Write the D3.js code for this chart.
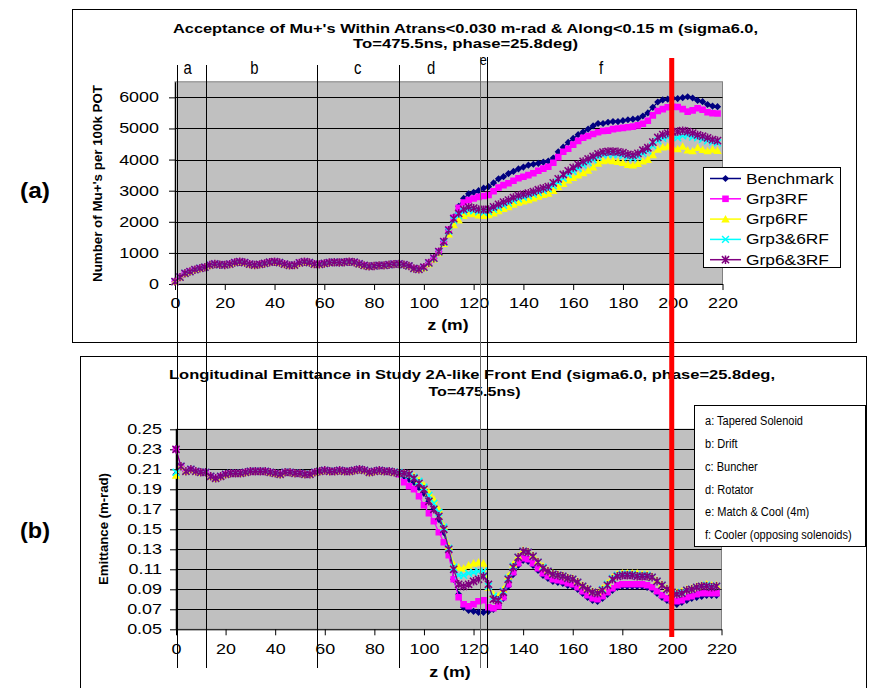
<!DOCTYPE html>
<html><head><meta charset="utf-8">
<script src="https://cdn.jsdelivr.net/npm/d3@7"></script>
<style>
body{margin:0;background:#fff;}
svg{display:block;font-family:"Liberation Sans",Arial,Helvetica,sans-serif;}
</style>
</head><body>
<svg id="chart" width="871" height="688"></svg>
<script>
// ---------------- DATA ----------------
const seriesNames = ["Benchmark", "Grp3RF", "Grp6RF", "Grp3&6RF", "Grp6&3RF"];
const seriesColors = ["#000080", "#FF00FF", "#FFFF00", "#00FFFF", "#800080"];
const seriesMarkers = ["diamond", "square", "triangle", "x", "asterisk"];

// z sampling grid (m), every 2 m
const zGrid = d3.range(0, 220, 2);

// (a) Acceptance, z = 0..98 (all series coincide)
const accCommon = [75,220,345,400,460,505,540,610,643,620,611,640,690,717,690,640,610,630,660,700,
  717,690,640,600,610,680,717,690,640,630,660,690,700,690,700,717,700,650,600,565,
  580,600,600,620,640,645,620,580,500,470];
// (a) Acceptance, z = 100..218
const accBenchmark = [540,680,830,1040,1360,1740,2150,2500,2750,2900,2950,3000,3080,3130,3250,3380,3450,3550,3620,3700,
  3760,3820,3850,3880,3920,3950,4050,4250,4400,4550,4680,4800,4890,4980,5080,5160,5160,5200,5220,5220,
  5250,5280,5300,5320,5400,5500,5680,5850,5920,5940,5970,5960,5990,6020,5980,5900,5860,5770,5720,5700];
const accGrp3RF = [540,680,830,1040,1360,1740,2130,2450,2620,2700,2750,2800,2830,2860,2980,3100,3180,3240,3320,3400,
  3450,3500,3560,3640,3710,3770,3900,4080,4250,4350,4480,4600,4700,4760,4820,4880,4920,4930,4980,5000,
  5020,5040,5060,5100,5150,5250,5420,5560,5620,5680,5700,5690,5620,5540,5580,5650,5600,5520,5490,5480];
const accGrp6RF = [520,650,800,1000,1300,1600,1900,2050,2200,2270,2250,2210,2200,2220,2280,2350,2420,2480,2560,2620,
  2660,2700,2760,2820,2870,2910,3000,3120,3230,3340,3420,3500,3570,3650,3760,3880,3960,3980,3960,3930,
  3900,3840,3820,3870,3950,4000,4150,4330,4400,4420,4380,4340,4420,4300,4280,4380,4320,4280,4330,4290];
const accGrp36RF = [530,670,820,1030,1340,1700,2050,2200,2330,2370,2350,2320,2300,2330,2400,2460,2530,2600,2680,2740,
  2790,2830,2880,2940,3000,3060,3160,3280,3400,3520,3620,3720,3820,3900,3990,4080,4150,4170,4170,4160,
  4130,4080,4050,4100,4200,4280,4450,4600,4680,4720,4730,4700,4760,4780,4720,4700,4650,4600,4560,4540];
const accGrp63RF = [540,680,830,1040,1360,1730,2100,2270,2400,2470,2440,2400,2390,2400,2480,2560,2630,2700,2780,2840,
  2880,2920,2970,3030,3080,3130,3250,3380,3520,3640,3740,3840,3940,4020,4100,4180,4240,4260,4260,4250,
  4220,4170,4140,4200,4300,4380,4560,4710,4800,4850,4890,4900,4930,4900,4850,4790,4750,4700,4640,4610];

// (b) Emittance: value at z = 0 for each series
const emitStart = [0.205, 0.23, 0.204, 0.207, 0.23];
// (b) z = 2..88 (all series coincide)
const emitCommon = [0.213,0.208,0.210,0.208,0.207,0.207,0.203,0.201,0.203,0.205,
  0.206,0.206,0.206,0.207,0.208,0.208,0.208,0.208,0.207,0.206,
  0.205,0.207,0.207,0.206,0.206,0.205,0.205,0.207,0.208,0.209,
  0.208,0.208,0.209,0.208,0.208,0.209,0.210,0.209,0.207,0.208,
  0.209,0.208,0.208,0.207];
// (b) z = 90..218
const emitBenchmark = [0.206,0.203,0.2,0.197,0.192,0.186,0.178,0.17,0.16,0.147,0.128,0.1,0.085,0.072,0.069,
  0.068,0.067,0.067,0.068,0.07,0.074,0.081,0.093,0.105,0.114,0.119,0.118,0.114,0.109,0.104,
  0.101,0.098,0.097,0.096,0.094,0.093,0.09,0.086,0.082,0.079,0.078,0.081,0.085,0.089,0.092,
  0.093,0.093,0.093,0.093,0.093,0.092,0.09,0.086,0.082,0.079,0.076,0.075,0.077,0.079,0.081,
  0.082,0.083,0.084,0.084,0.084];
const emitGrp3RF = [0.205,0.197,0.193,0.19,0.183,0.174,0.166,0.158,0.147,0.137,0.124,0.1,0.082,0.075,0.073,
  0.075,0.078,0.079,0.072,0.071,0.073,0.082,0.095,0.107,0.116,0.121,0.12,0.116,0.111,0.106,
  0.103,0.1,0.099,0.098,0.096,0.095,0.092,0.088,0.084,0.081,0.08,0.083,0.087,0.091,0.094,
  0.095,0.095,0.095,0.095,0.095,0.094,0.092,0.088,0.084,0.081,0.079,0.078,0.079,0.082,0.083,
  0.085,0.086,0.086,0.086,0.086];
const emitGrp6RF = [0.207,0.206,0.205,0.203,0.199,0.194,0.187,0.18,0.17,0.153,0.133,0.115,0.112,0.111,0.114,
  0.116,0.117,0.116,0.092,0.085,0.083,0.09,0.103,0.115,0.123,0.129,0.128,0.124,0.118,0.113,
  0.109,0.106,0.105,0.104,0.102,0.101,0.098,0.094,0.091,0.088,0.087,0.091,0.096,0.102,0.105,
  0.106,0.106,0.106,0.106,0.105,0.105,0.103,0.099,0.095,0.091,0.088,0.087,0.088,0.09,0.091,
  0.093,0.094,0.095,0.094,0.094];
const emitGrp36RF = [0.207,0.205,0.204,0.202,0.198,0.192,0.184,0.176,0.167,0.152,0.131,0.112,0.104,0.104,0.106,
  0.107,0.108,0.108,0.093,0.083,0.081,0.088,0.101,0.113,0.122,0.128,0.127,0.123,0.117,0.112,
  0.108,0.105,0.104,0.103,0.101,0.1,0.097,0.093,0.09,0.087,0.086,0.09,0.095,0.101,0.104,
  0.105,0.105,0.105,0.104,0.104,0.104,0.102,0.098,0.094,0.09,0.087,0.086,0.087,0.089,0.09,
  0.092,0.093,0.094,0.093,0.093];
const emitGrp63RF = [0.206,0.206,0.205,0.201,0.196,0.19,0.178,0.17,0.163,0.15,0.13,0.11,0.095,0.093,0.095,
  0.098,0.1,0.103,0.095,0.08,0.079,0.087,0.1,0.112,0.122,0.128,0.127,0.123,0.117,0.111,
  0.108,0.105,0.104,0.103,0.101,0.1,0.097,0.093,0.09,0.087,0.086,0.089,0.094,0.1,0.103,
  0.104,0.104,0.104,0.103,0.103,0.103,0.102,0.098,0.094,0.09,0.087,0.085,0.086,0.089,0.09,
  0.092,0.093,0.093,0.092,0.093];

// axis ticks
const xTicks = [0,20,40,60,80,100,120,140,160,180,200,220];
const accTicks = [0,1000,2000,3000,4000,5000,6000];
const emitTicks = [0.05,0.07,0.09,0.11,0.13,0.15,0.17,0.19,0.21,0.23,0.25];

// section boundaries (z, m) and labels
const sectionZ = [0.7, 12.6, 57.2, 90, 122.6, 125.5];
const sectionLetters = ["a","b","c","d","e","f"];
const sectionLetterZ = [5.1, 31.9, 73.4, 102.9, 123.9, 171.2];
const sectionNames = ["a: Tapered Solenoid","b: Drift","c: Buncher","d: Rotator","e: Match & Cool (4m)","f: Cooler (opposing solenoids)"];
const redLineZ = 199.6;

const accValues = [accBenchmark, accGrp3RF, accGrp6RF, accGrp36RF, accGrp63RF].map(t => accCommon.concat(t));
const emitValues = [emitBenchmark, emitGrp3RF, emitGrp6RF, emitGrp36RF, emitGrp63RF]
  .map((t, i) => [emitStart[i]].concat(emitCommon, t));

// ---------------- DRAW ----------------
const svg = d3.select("#chart");

function T(g, s, x, y, o = {}) {
  const t = g.append("text").attr("x", x).attr("y", y).text(s)
    .attr("font-size", o.size || 13).attr("font-weight", o.weight || "normal")
    .attr("text-anchor", o.anchor || "start").attr("fill", "#000");
  if (o.family) t.attr("font-family", o.family);
  if (o.rotate) t.attr("transform", `rotate(-90,${x},${y})`);
  const n = t.node().getComputedTextLength();
  const w = o.width || (o.sx ? n * o.sx : null);
  if (w) t.attr("textLength", w).attr("lengthAdjust", "spacingAndGlyphs");
  return t;
}

function markerPath(type, x, y) {
  switch (type) {
    case "diamond": { const s = 3.6; return `M${x},${y-s}L${x+s},${y}L${x},${y+s}L${x-s},${y}Z`; }
    case "square": { const s = 3.3; return `M${x-s},${y-s}h${2*s}v${2*s}h${-2*s}Z`; }
    case "triangle": { const s = 4.2; return `M${x},${y-s}L${x+s},${y+s*0.8}L${x-s},${y+s*0.8}Z`; }
    case "x": { const s = 3.4; return `M${x-s},${y-s}L${x+s},${y+s}M${x-s},${y+s}L${x+s},${y-s}`; }
    case "asterisk": { const s = 3.6; return `M${x-s},${y-s}L${x+s},${y+s}M${x-s},${y+s}L${x+s},${y-s}M${x},${y-s-0.6}L${x},${y+s+0.6}`; }
  }
}
function drawMarkers(g, type, color, pts) {
  const d = pts.map(p => markerPath(type, p[0], p[1])).join("");
  const stroked = (type === "x" || type === "asterisk");
  g.append("path").attr("d", d)
    .attr("fill", stroked ? "none" : color)
    .attr("stroke", stroked ? color : "none")
    .attr("stroke-width", stroked ? 1.5 : 0);
}

function panel(cfg) {
  const { x, y, xTickVals, yTickVals, yFmt, values, tickPad, yLabelPad } = cfg;
  const g = svg.append("g");
  const [x0, x1] = x.range();
  const [y0, y1] = y.range();
  g.append("rect").attr("x", x0).attr("y", y1).attr("width", x1 - x0).attr("height", y0 - y1)
    .attr("fill", "#C0C0C0").attr("stroke", "#808080").attr("stroke-width", 1);
  g.selectAll("line.grid").data(yTickVals.slice(1)).join("line")
    .attr("x1", x0).attr("x2", x1)
    .attr("y1", d => Math.round(y(d)) + 0.5).attr("y2", d => Math.round(y(d)) + 0.5)
    .attr("stroke", "#000").attr("stroke-width", 1);
  const ya = g.append("g").attr("transform", `translate(${x0},0)`)
    .call(d3.axisLeft(y).tickValues(yTickVals).tickFormat(yFmt).tickSize(6).tickSizeOuter(0).tickPadding(yLabelPad));
  const xa = g.append("g").attr("transform", `translate(0,${y0})`)
    .call(d3.axisBottom(x).tickValues(xTickVals).tickFormat(d3.format("d")).tickSize(6).tickSizeOuter(0).tickPadding(tickPad));
  [ya, xa].forEach(a => {
    a.selectAll("path,line").attr("stroke", "#000");
    a.selectAll("text").attr("font-size", 14).attr("font-family", '"Liberation Sans",Arial,sans-serif')
      .each(function () {
        const n = this.getComputedTextLength();
        d3.select(this).attr("textLength", n * 1.28).attr("lengthAdjust", "spacingAndGlyphs");
      });
  });
  values.forEach((vals, i) => {
    const pts = vals.map((v, j) => [x(zGrid[j]), y(v)]);
    g.append("path").attr("d", d3.line()(pts)).attr("fill", "none")
      .attr("stroke", seriesColors[i]).attr("stroke-width", 1.2);
    drawMarkers(g, seriesMarkers[i], seriesColors[i], pts);
  });
  return g;
}

// panel borders
svg.append("rect").attr("x", 72.5).attr("y", 9.5).attr("width", 784).attr("height", 333)
  .attr("fill", "#fff").attr("stroke", "#000");
svg.append("rect").attr("x", 80.5).attr("y", 356.5).attr("width", 786).attr("height", 340)
  .attr("fill", "#fff").attr("stroke", "#000");

// scales
const xTop = d3.scaleLinear().domain([0, 220]).range([175, 722.5]);
const yTop = d3.scaleLinear().domain([0, 6500]).range([284, 81.8]);
const xBot = d3.scaleLinear().domain([0, 220]).range([176, 721.5]);
const yBot = d3.scaleLinear().domain([0.05, 0.25]).range([629.3, 429.3]);

panel({ x: xTop, y: yTop, xTickVals: xTicks, yTickVals: accTicks, yFmt: d3.format("d"),
  values: accValues, tickPad: 8.4, yLabelPad: 10 });
panel({ x: xBot, y: yBot, xTickVals: xTicks, yTickVals: emitTicks, yFmt: d3.format(".2f"),
  values: emitValues, tickPad: 8.8, yLabelPad: 8 });

// titles
T(svg, "Acceptance of Mu+'s Within Atrans<0.030 m-rad & Along<0.15 m (sigma6.0,", 465.5, 32.7,
  { size: 13, weight: "bold", anchor: "middle", width: 585 });
T(svg, "To=475.5ns, phase=25.8deg)", 465.5, 48, { size: 13, weight: "bold", anchor: "middle", width: 225 });
T(svg, "Longitudinal Emittance in Study 2A-like Front End (sigma6.0, phase=25.8deg,", 472, 379.3,
  { size: 13, weight: "bold", anchor: "middle", width: 606 });
T(svg, "To=475.5ns)", 474.5, 396, { size: 13, weight: "bold", anchor: "middle", width: 92 });

// axis titles
T(svg, "Number of Mu+'s per 100k POT", 101.5, 183.5, { size: 12.5, weight: "bold", anchor: "middle", rotate: true, width: 197 });
T(svg, "Emittance (m-rad)", 107.5, 529, { size: 12.5, weight: "bold", anchor: "middle", rotate: true, width: 112 });
T(svg, "z (m)", 448, 330, { size: 14, weight: "bold", anchor: "middle", width: 41 });
T(svg, "z (m)", 450, 676.5, { size: 14, weight: "bold", anchor: "middle", width: 41.5 });

// panel tags
T(svg, "(a)", 35, 198, { size: 22, weight: "bold", anchor: "middle", width: 30 });
T(svg, "(b)", 35, 538, { size: 22, weight: "bold", anchor: "middle", width: 30 });

// legend (a)
const lg = svg.append("g");
lg.append("rect").attr("x", 703.5).attr("y", 167.5).attr("width", 137).attr("height", 100)
  .attr("fill", "#fff").attr("stroke", "#000");
seriesNames.forEach((name, i) => {
  const cy = 178.5 + i * 20.3;
  lg.append("line").attr("x1", 710).attr("x2", 741).attr("y1", cy).attr("y2", cy)
    .attr("stroke", seriesColors[i]).attr("stroke-width", 1.5);
  drawMarkers(lg, seriesMarkers[i], seriesColors[i], [[725.5, cy]]);
  T(lg, name, 746, cy + 5, { size: 14, sx: 1.24 });
});

// legend (b): section names
const lb = svg.append("g");
lb.append("rect").attr("x", 694.5).attr("y", 405.5).attr("width", 171).attr("height", 141)
  .attr("fill", "#fff").attr("stroke", "#000");
sectionNames.forEach((s, i) => {
  T(lb, s, 705, 425 + i * 22.85, { size: 12, sx: 0.92 });
});

// section lines over both panels
const sl = svg.append("g");
sectionZ.forEach((z, i) => {
  const xx = Math.round(xTop(z)) + 0.5;
  sl.append("line").attr("x1", xx).attr("x2", xx)
    .attr("y1", i >= 4 ? 57 : 65).attr("y2", 668)
    .attr("stroke", i === 4 ? "#6a6a6a" : "#000").attr("stroke-width", 1);
});
sectionLetters.forEach((s, i) => {
  T(sl, s, xTop(sectionLetterZ[i]), i === 4 ? 65 : 74,
    { size: i === 4 ? 15 : 17.5, anchor: "middle", family: '"Liberation Sans Narrow","Liberation Sans",Arial,sans-serif', sx: 0.85 });
});
sl.append("line").attr("x1", xTop(redLineZ)).attr("x2", xTop(redLineZ))
  .attr("y1", 58).attr("y2", 637).attr("stroke", "#FF0000").attr("stroke-width", 5);
</script>
</body></html>
